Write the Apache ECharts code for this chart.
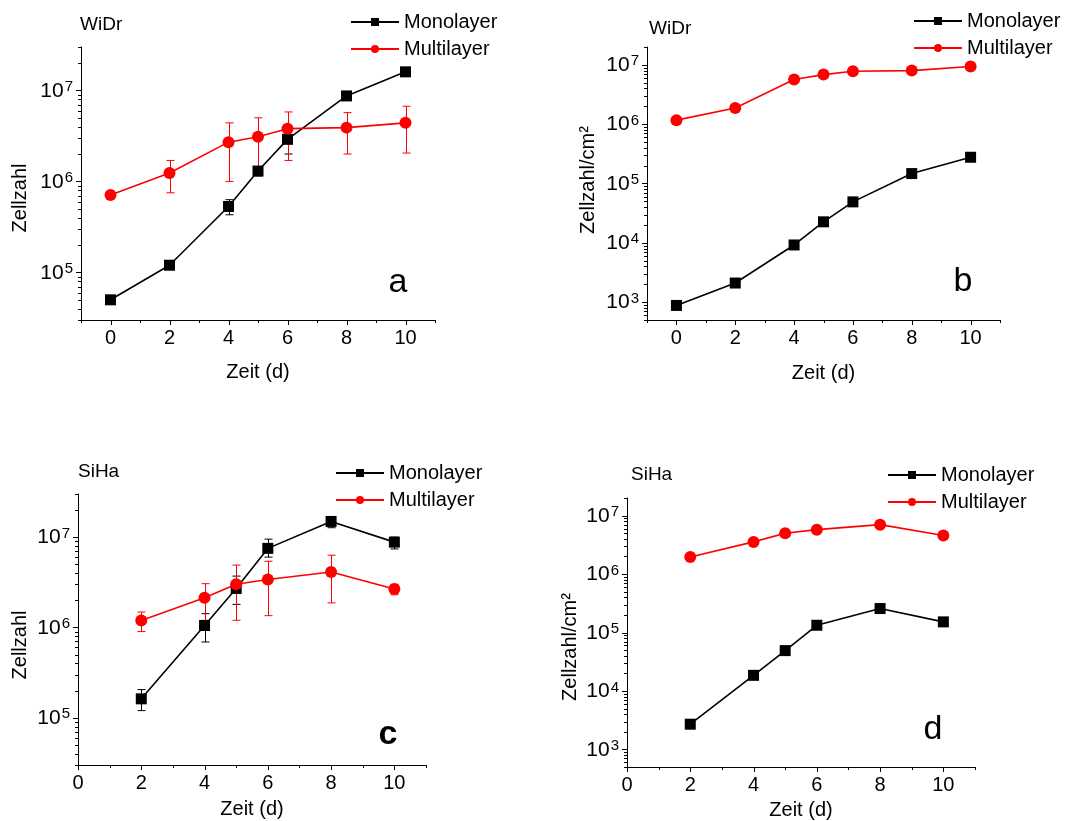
<!DOCTYPE html>
<html><head><meta charset="utf-8">
<script src="https://cdn.jsdelivr.net/npm/echarts@6/dist/echarts.min.js"></script>
<style>html,body{margin:0;padding:0;background:#fff}#c{width:1090px;height:821px}</style>
</head><body><div id="c"></div>
<script>
const FONT = '"Liberation Sans", Arial, Helvetica, sans-serif';

// ---- Panel a: WiDr, Zellzahl ----
const daysA = [0, 2, 4, 5, 6, 8, 10];
const monoA = [5.0e4, 1.2e5, 5.3e5, 1.3e6, 2.9e6, 8.7e6, 1.6e7];
const monoA_err = [null, null, [4.3e5, 6.3e5], [1.15e6, 1.45e6], [2.0e6, 3.6e6], null, null];
const multiA = [7.1e5, 1.24e6, 2.7e6, 3.1e6, 3.8e6, 3.9e6, 4.4e6];
const multiA_err = [null, [7.5e5, 1.7e6], [1.0e6, 4.4e6], [1.3e6, 5.0e6], [1.7e6, 5.8e6], [2.0e6, 5.7e6], [2.05e6, 6.7e6]];

// ---- Panel b: WiDr, Zellzahl/cm² ----
const daysB = [0, 2, 4, 5, 6, 8, 10];
const monoB = [880, 2.1e3, 9.2e3, 2.26e4, 4.9e4, 1.47e5, 2.77e5];
const multiB = [1.17e6, 1.87e6, 5.65e6, 6.85e6, 7.8e6, 8.0e6, 9.4e6];

// ---- Panel c: SiHa, Zellzahl ----
const daysC = [2, 4, 5, 6, 8, 10];
const monoC = [1.62e5, 1.05e6, 2.7e6, 7.5e6, 1.49e7, 8.8e6];
const monoC_err = [[1.2e5, 2.05e5], [6.9e5, 1.42e6], [1.8e6, 3.7e6], [6.0e6, 9.5e6], [1.27e7, 1.65e7], [7.4e6, 1.0e7]];
const multiC = [1.19e6, 2.13e6, 3.0e6, 3.4e6, 4.1e6, 2.66e6];
const multiC_err = [[9.0e5, 1.48e6], [1.2e6, 3.05e6], [1.2e6, 4.9e6], [1.35e6, 5.4e6], [1.87e6, 6.3e6], [2.3e6, 3.0e6]];

// ---- Panel d: SiHa, Zellzahl/cm² ----
const daysD = [2, 4, 5, 6, 8, 10];
const monoD = [2.7e3, 1.85e4, 4.9e4, 1.33e5, 2.57e5, 1.52e5];
const multiD = [1.95e6, 3.55e6, 5.0e6, 5.75e6, 7.0e6, 4.55e6];

// ---- axes ----
const xRangeAB = [-1, 11];
const xRangeCD = [0, 11];
const yRangeAC = [3e4, 3e7];
const yRangeBD = [500, 2e7];
const xLabels = [0, 2, 4, 6, 8, 10];
const xMinorAB = [-1, 1, 3, 5, 7, 9, 11];
const xMinorCD = [1, 3, 5, 7, 9, 11];
const minorMult = [2, 3, 4, 5, 6, 7, 8, 9];
const seriesNames = ['Monolayer', 'Multilayer'];
const panelLetters = ['a', 'b', 'c', 'd'];
const cellLines = ['WiDr', 'WiDr', 'SiHa', 'SiHa'];
const yTitles = ['Zellzahl', 'Zellzahl/cm²', 'Zellzahl', 'Zellzahl/cm²'];

const grids = [
  {left: 81, top: 47, width: 354, height: 273},
  {left: 647, top: 47, width: 353, height: 273},
  {left: 78, top: 494, width: 348, height: 271},
  {left: 627, top: 498, width: 348, height: 270}
];
const xRanges = [xRangeAB, xRangeAB, xRangeCD, xRangeCD];
const yRanges = [yRangeAC, yRangeBD, yRangeAC, yRangeBD];
const xMinors = [xMinorAB, xMinorAB, xMinorCD, xMinorCD];
const xNameGaps = [42, 43, 34, 33];

function tickItems(gi) {
  const xr = xRanges[gi], yr = yRanges[gi];
  const items = [];
  const lo = Math.floor(Math.log10(yr[0])), hi = Math.ceil(Math.log10(yr[1]));
  for (let e = lo; e <= hi; e++) {
    const d = Math.pow(10, e);
    if (d >= yr[0] * 0.999 && d <= yr[1] * 1.001) items.push([xr[0], d, 0]);
    minorMult.forEach(m => {
      const v = m * d;
      if (v >= yr[0] * 0.999 && v <= yr[1] * 1.001) items.push([xr[0], v, 1]);
    });
  }
  xLabels.forEach(v => items.push([v, yr[0], 2]));
  xMinors[gi].forEach(v => items.push([v, yr[0], 3]));
  return items;
}

function tickSeries(gi) {
  return {
    type: 'custom', xAxisIndex: gi, yAxisIndex: gi, silent: true, clip: false, z: 1,
    encode: {x: 0, y: 1}, data: tickItems(gi), animation: false,
    renderItem: (params, api) => {
      const kind = api.value(2);
      const p = api.coord([api.value(0), api.value(1)]);
      if (kind < 2) {
        const L = kind === 0 ? 5 : 3;
        const y = Math.round(p[1]) + 0.5, x = Math.round(p[0]);
        return {type: 'line', shape: {x1: x - L, y1: y, x2: x, y2: y}, style: {stroke: '#000', lineWidth: 1}};
      } else {
        const L = kind === 2 ? 5 : 3;
        const x = Math.round(p[0]) + 0.5, y = Math.round(p[1]);
        return {type: 'line', shape: {x1: x, y1: y, x2: x, y2: y + L}, style: {stroke: '#000', lineWidth: 1}};
      }
    }
  };
}

function errSeries(gi, days, errs, color) {
  const data = [];
  days.forEach((d, i) => { if (errs[i]) data.push([d, errs[i][0], errs[i][1]]); });
  return {
    type: 'custom', xAxisIndex: gi, yAxisIndex: gi, silent: true, z: 2, animation: false,
    encode: {x: 0, y: [1, 2]}, data,
    renderItem: (params, api) => {
      const lo = api.coord([api.value(0), api.value(1)]);
      const hi = api.coord([api.value(0), api.value(2)]);
      const x = Math.round(lo[0]) + 0.5, w = 4;
      const st = {stroke: color, lineWidth: 1};
      return {type: 'group', children: [
        {type: 'line', shape: {x1: x, y1: lo[1], x2: x, y2: hi[1]}, style: st},
        {type: 'line', shape: {x1: x - w, y1: lo[1], x2: x + w, y2: lo[1]}, style: st},
        {type: 'line', shape: {x1: x - w, y1: hi[1], x2: x + w, y2: hi[1]}, style: st}
      ]};
    }
  };
}

function lineSeries(name, gi, days, vals, color, symbol) {
  return {
    type: 'line', name, xAxisIndex: gi, yAxisIndex: gi,
    data: days.map((d, i) => [d, vals[i]]),
    symbol, symbolSize: symbol === 'rect' ? 11 : 12, showSymbol: true,
    lineStyle: {color, width: 1.6}, itemStyle: {color}, z: 3, animation: false
  };
}

const xAxes = grids.map((g, gi) => ({
  type: 'value', gridIndex: gi, min: xRanges[gi][0], max: xRanges[gi][1], interval: 1,
  name: 'Zeit (d)', nameLocation: 'middle', nameGap: xNameGaps[gi],
  nameTextStyle: {fontFamily: FONT, fontSize: 20, color: '#000'},
  axisLine: {show: true, onZero: false, lineStyle: {color: '#000', width: 1}},
  axisTick: {show: false}, splitLine: {show: false},
  axisLabel: {margin: 8, fontFamily: FONT, fontSize: 20, color: '#000',
    showMinLabel: true, showMaxLabel: true,
    formatter: v => (xLabels.indexOf(v) >= 0 ? String(v) : '')}
}));

const yAxes = grids.map((g, gi) => ({
  type: 'log', logBase: 10, gridIndex: gi, min: yRanges[gi][0], max: yRanges[gi][1],
  axisLine: {show: true, onZero: false, lineStyle: {color: '#000', width: 1}},
  axisTick: {show: false}, splitLine: {show: false}, minorTick: {show: false},
  axisLabel: {
    margin: 8, color: '#000',
    formatter: v => {
      const e = Math.log10(v), r = Math.round(e);
      return Math.abs(e - r) < 1e-6 ? '{b|10}{s|' + r + '}' : '';
    },
    rich: {
      b: {fontFamily: FONT, fontSize: 21, color: '#000', lineHeight: 22, verticalAlign: 'bottom'},
      s: {fontFamily: FONT, fontSize: 15, color: '#000', lineHeight: 22, verticalAlign: 'top', padding: [0, 0, 8, 1]}
    }
  }
}));

const series = [];
series.push(tickSeries(0), tickSeries(1), tickSeries(2), tickSeries(3));
series.push(errSeries(0, daysA, monoA_err, '#000'), errSeries(0, daysA, multiA_err, '#ff0000'));
series.push(errSeries(2, daysC, monoC_err, '#000'), errSeries(2, daysC, multiC_err, '#ff0000'));
series.push(lineSeries('Monolayer', 0, daysA, monoA, '#000', 'rect'));
series.push(lineSeries('Multilayer', 0, daysA, multiA, '#ff0000', 'circle'));
series.push(lineSeries('Monolayer', 1, daysB, monoB, '#000', 'rect'));
series.push(lineSeries('Multilayer', 1, daysB, multiB, '#ff0000', 'circle'));
series.push(lineSeries('Monolayer', 2, daysC, monoC, '#000', 'rect'));
series.push(lineSeries('Multilayer', 2, daysC, multiC, '#ff0000', 'circle'));
series.push(lineSeries('Monolayer', 3, daysD, monoD, '#000', 'rect'));
series.push(lineSeries('Multilayer', 3, daysD, multiD, '#ff0000', 'circle'));

const legendPos = [[345, 7], [908, 6], [330, 458], [882, 460]];
const legends = legendPos.map(p => ({
  left: p[0], top: p[1], orient: 'vertical', itemWidth: 48, itemHeight: 10, itemGap: 7,
  data: seriesNames, selectedMode: false,
  textStyle: {fontFamily: FONT, fontSize: 20, color: '#000'}
}));

const cellPos = [[80, 25], [649, 29], [78, 472], [631, 475]];
const letterPos = [[398, 283], [963, 282], [388, 735], [933, 730]];
const yTitlePos = [[20, 198], [588, 180], [20, 645], [570, 647]];
const graphic = [];
cellPos.forEach((p, i) => graphic.push({type: 'text', x: p[0], y: p[1], silent: true,
  style: {text: cellLines[i], font: '19px ' + FONT, fill: '#000', align: 'left', verticalAlign: 'middle', textAlign: 'left', textVerticalAlign: 'middle'}}));
letterPos.forEach((p, i) => graphic.push({type: 'text', x: p[0], y: p[1], silent: true,
  style: {text: panelLetters[i], font: (i === 2 ? 'bold ' : '') + '34px ' + FONT, fill: '#000', align: 'center', verticalAlign: 'middle', textAlign: 'center', textVerticalAlign: 'middle'}}));
yTitlePos.forEach((p, i) => graphic.push({type: 'text', x: p[0], y: p[1], rotation: Math.PI / 2, silent: true,
  style: {text: yTitles[i], font: '20px ' + FONT, fill: '#000', align: 'center', verticalAlign: 'middle', textAlign: 'center', textVerticalAlign: 'middle'}}));

const chart = echarts.init(document.getElementById('c'), null, {renderer: 'canvas'});
chart.setOption({
  backgroundColor: '#fff',
  animation: false,
  grid: grids.map(g => Object.assign({containLabel: false}, g)),
  xAxis: xAxes,
  yAxis: yAxes,
  legend: legends,
  graphic,
  series
});
</script>
</body></html>
